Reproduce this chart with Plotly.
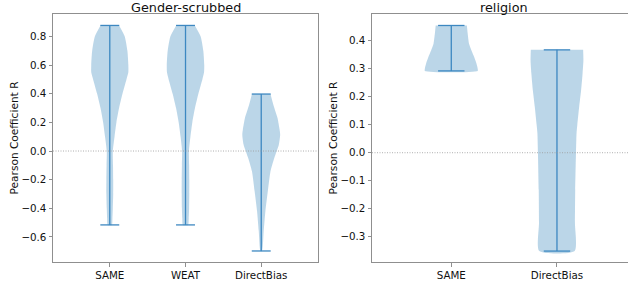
import plotly.graph_objects as go

# ---------------- data ----------------
left_title = "Gender-scrubbed"
right_title = "religion"
left_categories = ["SAME", "WEAT", "DirectBias"]
right_categories = ["SAME", "DirectBias"]
y_label = "Pearson Coefficient R"

# min / max of each distribution
left_min = [-0.516, -0.516, -0.698]
left_max = [0.877, 0.877, 0.398]
right_min = [0.292, -0.351]
right_max = [0.454, 0.367]

# estimated density profiles (value level, relative density 0..1)
same_g_levels = [0.877, 0.80, 0.70, 0.60, 0.55, 0.50, 0.40, 0.30, 0.20, 0.10, 0.0, -0.10, -0.20, -0.30, -0.40, -0.47, -0.516]
same_g_dens   = [0.49, 0.79, 0.93, 0.98, 0.98, 0.88, 0.67, 0.49, 0.35, 0.25, 0.16, 0.17, 0.18, 0.18, 0.16, 0.14, 0.11]
weat_g_levels = [0.877, 0.80, 0.70, 0.60, 0.55, 0.50, 0.40, 0.30, 0.20, 0.10, 0.0, -0.10, -0.20, -0.30, -0.40, -0.47, -0.516]
weat_g_dens   = [0.49, 0.80, 0.94, 0.99, 0.98, 0.89, 0.68, 0.50, 0.36, 0.26, 0.18, 0.19, 0.20, 0.20, 0.19, 0.17, 0.14]
db_g_levels   = [0.398, 0.323, 0.23, 0.15, 0.114, 0.044, -0.049, -0.142, -0.28, -0.42, -0.56, -0.698]
db_g_dens     = [0.49, 0.64, 0.86, 0.97, 1.0, 0.93, 0.69, 0.49, 0.35, 0.22, 0.13, 0.04]
same_r_levels = [0.454, 0.426, 0.39, 0.366, 0.343, 0.319, 0.300, 0.292]
same_r_dens   = [0.59, 0.62, 0.67, 0.76, 0.86, 0.95, 1.0, 1.0]
db_r_levels   = [0.367, 0.33, 0.284, 0.22, 0.164, 0.10, 0.069, 0.0, -0.133, -0.25, -0.351]
db_r_dens     = [0.99, 1.0, 0.97, 0.91, 0.84, 0.77, 0.74, 0.72, 0.69, 0.68, 0.67]

left_ticks = [-0.6, -0.4, -0.2, 0.0, 0.2, 0.4, 0.6, 0.8]
left_tick_text = ["\u22120.6", "\u22120.4", "\u22120.2", "0.0", "0.2", "0.4", "0.6", "0.8"]
right_ticks = [-0.3, -0.2, -0.1, 0.0, 0.1, 0.2, 0.3, 0.4]
right_tick_text = ["\u22120.3", "\u22120.2", "\u22120.1", "0.0", "0.1", "0.2", "0.3", "0.4"]

# ---------------- style ----------------
HALF_W = 0.25   # violin half-width (widths=0.5)
CAP_W = 0.125
FILL = "rgba(31,119,180,0.3)"
LINE = "#3d88c1"
SPINE = "#8f8f8f"
FONT = "DejaVu Sans"

fig = go.Figure()


def add_violin(pos, levels, dens, vmin, vmax, xa, ya):
    xs = [pos + HALF_W * d for d in dens] + [pos - HALF_W * d for d in reversed(dens)]
    ys = list(levels) + list(reversed(levels))
    fig.add_trace(go.Scatter(x=xs, y=ys, fill="toself", fillcolor=FILL,
                             mode="lines", line=dict(width=0, shape="spline", smoothing=0.6),
                             xaxis=xa, yaxis=ya, hoverinfo="skip", showlegend=False))
    fig.add_trace(go.Scatter(
        x=[pos, pos, None, pos - CAP_W, pos + CAP_W, None, pos - CAP_W, pos + CAP_W],
        y=[vmin, vmax, None, vmin, vmin, None, vmax, vmax],
        mode="lines", line=dict(color=LINE, width=1.3),
        xaxis=xa, yaxis=ya, hoverinfo="skip", showlegend=False))


left_profiles = [(same_g_levels, same_g_dens), (weat_g_levels, weat_g_dens), (db_g_levels, db_g_dens)]
for i, (lv, dn) in enumerate(left_profiles):
    add_violin(i + 1, lv, dn, left_min[i], left_max[i], "x", "y")

right_profiles = [(same_r_levels, same_r_dens), (db_r_levels, db_r_dens)]
for i, (lv, dn) in enumerate(right_profiles):
    add_violin(i + 1, lv, dn, right_min[i], right_max[i], "x2", "y2")

# zero reference lines
for xr, yr in (("x domain", "y"), ("x2 domain", "y2")):
    fig.add_shape(type="line", xref=xr, yref=yr, x0=0, x1=1, y0=0, y1=0,
                  line=dict(color="#9a9a9a", width=0.8, dash="1px,1.5px"), layer="above")

axis_common = dict(showgrid=False, zeroline=False, showline=True, linecolor=SPINE, linewidth=1,
                   ticks="outside", ticklen=3.5, tickwidth=1, tickcolor=SPINE,
                   tickfont=dict(family=FONT, size=10.3, color="#111"))

fig.update_layout(
    width=628, height=281,
    margin=dict(l=53, r=0, t=14, b=19),
    plot_bgcolor="white", paper_bgcolor="white",
    font=dict(family=FONT, color="#111"),
    xaxis=dict(domain=[0, 0.4609], range=[0.25, 3.75], mirror=True,
               tickvals=[1, 2, 3], ticktext=left_categories, **axis_common),
    yaxis=dict(range=[-0.775, 0.957], mirror=True, tickvals=left_ticks, ticktext=left_tick_text,
               title=dict(text=y_label, font=dict(family=FONT, size=10.6, color="#111"), standoff=0),
               **axis_common),
    xaxis2=dict(domain=[0.5548, 1], range=[0.25, 2.672], mirror=True, anchor="y2",
                tickvals=[1, 2], ticktext=right_categories, **axis_common),
    yaxis2=dict(range=[-0.390, 0.495], mirror=False, anchor="x2",
                tickvals=right_ticks, ticktext=right_tick_text,
                title=dict(text=y_label, font=dict(family=FONT, size=10.6, color="#111"), standoff=0),
                **axis_common),
)

fig.add_annotation(text=left_title, xref="x domain", yref="paper", x=0.5, y=1, yshift=7,
                   yanchor="middle", showarrow=False, font=dict(family=FONT, size=12.8, color="#111"))
fig.add_annotation(text=right_title, xref="x2", yref="paper", x=1.5, y=1, yshift=7,
                   yanchor="middle", showarrow=False, font=dict(family=FONT, size=12.8, color="#111"))

fig.write_html("out.html", config={"displayModeBar": False},
               post_script="document.body.style.margin='0';document.body.style.overflow='hidden';")
